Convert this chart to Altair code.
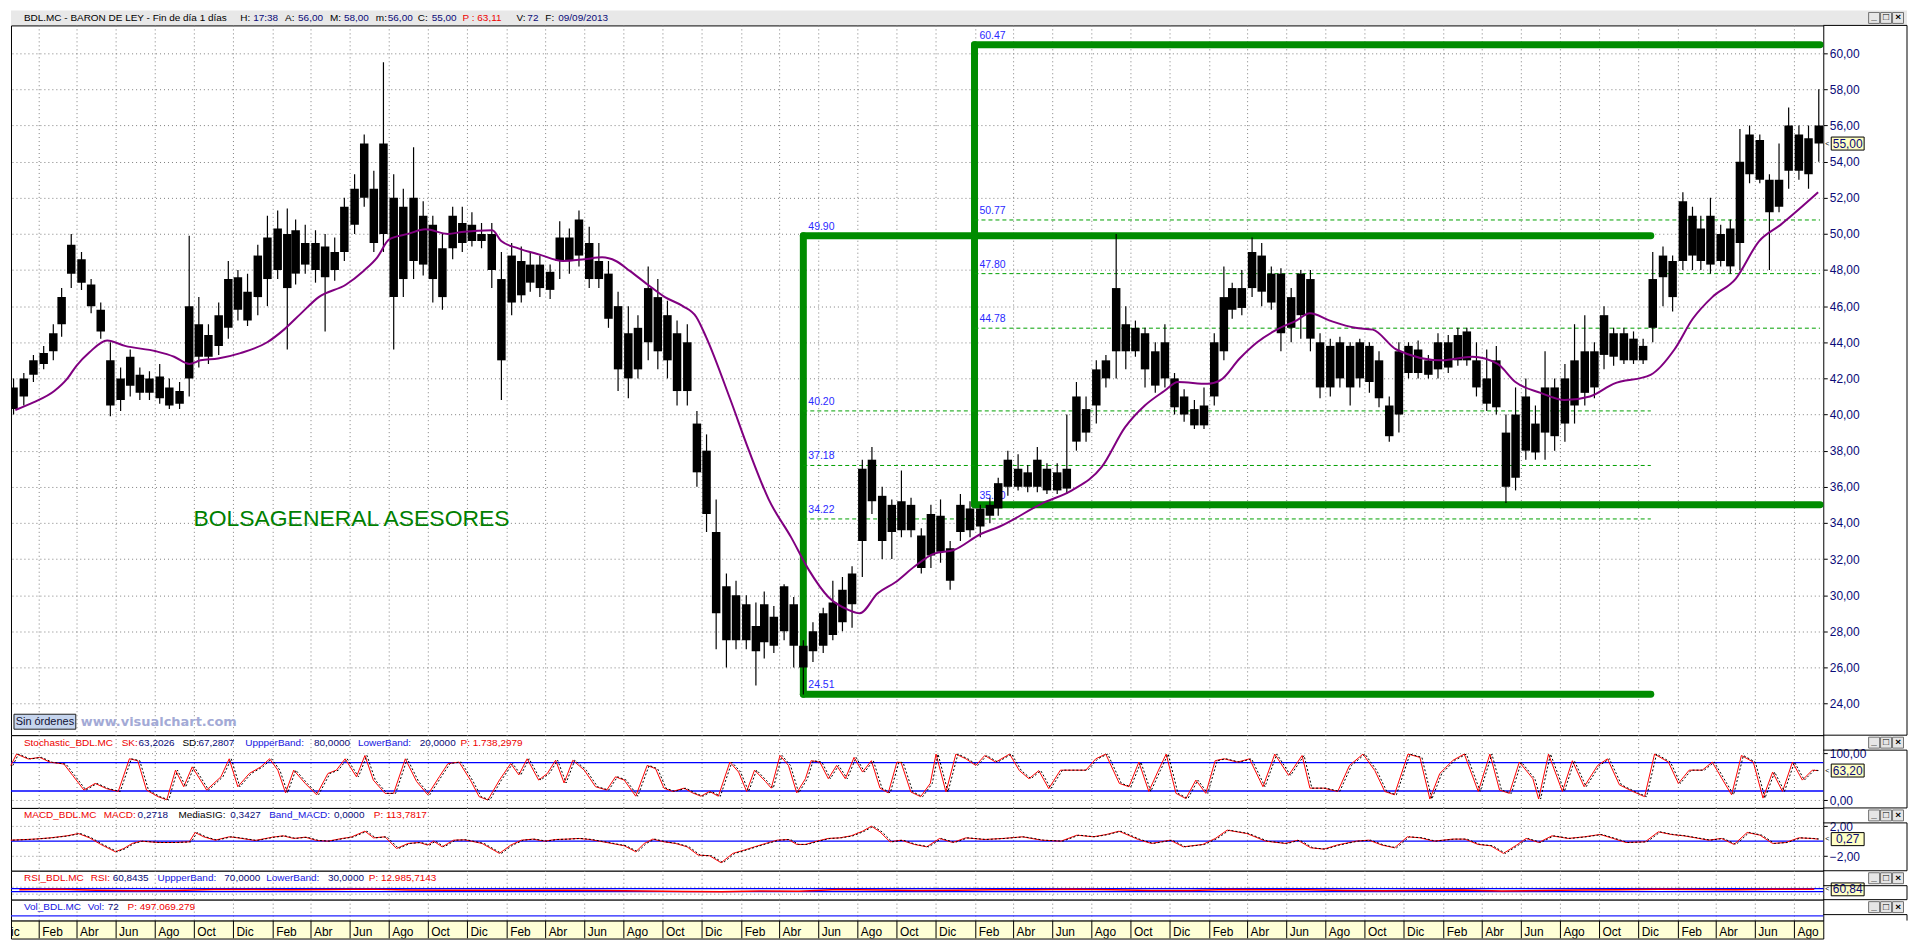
import altair as alt
import numpy as np
import pandas as pd

FONT = "Liberation Sans"
NAVY = "#0a0a78"
RED = "#ee0000"
BLUE = "#1515e0"
LBLUE = "#2a2aff"
GREEN = "#008c00"
FIBGREEN = "#00a000"

W = 1818
RIGHT = 84
H_HEAD, H_MAIN, H_STO, H_MACD, H_RSI, H_VOL, H_AX = 15, 712, 73, 63, 29, 21, 18

# ---------------- price data: one entry per half month (8th and 23rd) ----------------
PRICE_LOW = [40.0,
 40.5,41.8, 42.5,43.0, 44.3,47.0, 46.9,45.6, 44.2,39.9, 40.2,41.0, 40.8,40.8, 40.6,40.3, 40.3,41.0, 42.6,42.8, 43.3,44.2, 45.2,44.9,
 45.5,46.0, 47.5,43.6, 47.2,47.8, 47.3,44.6, 47.4,48.5, 50.0,51.5, 49.0,49.0, 43.6,46.5, 47.5,47.7, 46.2,45.8, 48.6,49.0, 49.3,49.2,
 47.0,40.8, 45.5,46.2, 46.8,46.5, 46.4,47.5, 47.8,48.2, 47.0,47.0, 44.8,41.3, 40.9,42.0, 43.0,42.5, 42.0,40.5, 40.5,36.0, 33.5,27.0,
 26.0,27.0, 27.0,25.0, 26.5,26.8, 27.5,26.0, 24.5,26.3, 26.8,27.5, 28.0,28.2, 31.0,34.5, 32.0,32.0, 33.2,33.2, 31.2,31.5, 31.8,30.3,
 33.0,33.2, 33.2,34.0, 34.4,35.5, 35.8,35.7, 35.7,35.6, 35.6,35.6, 38.0,38.5, 39.5,41.5, 42.0,42.5, 43.2,41.5, 41.2,41.5, 40.0,39.6,
 39.2,39.2, 40.5,43.0, 45.3,45.5, 46.5,46.0, 45.8,43.5, 44.0,44.2, 43.5,40.9, 41.0,41.5, 40.5,41.5, 41.2,40.4, 38.5,39.0, 42.0,42.0,
 42.0,42.0, 42.3,42.7, 42.7,41.0, 40.2,40.0, 35.1,35.8, 37.5,37.5, 37.5,38.0, 38.5,39.5, 40.5,40.9, 42.5,42.7, 42.8,42.8, 42.8,44.0,
 46.0,45.7, 48.0,48.0, 48.0,47.8, 48.2,47.8, 48.0,52.8, 52.8,48.0, 51.2,52.5, 53.0,52.5,
 54.0]
BODY_LOW = [40.3,
 41.0,42.2, 42.8,43.5, 45.0,47.8, 47.3,46.0, 44.6,40.5, 40.8,41.6, 41.2,41.2, 40.9,40.5, 40.6,42.0, 43.2,43.2, 43.8,44.8, 45.8,45.2,
 46.5,47.5, 48.0,47.0, 47.8,48.3, 48.0,47.6, 48.0,49.0, 50.5,52.0, 49.5,50.0, 46.5,47.5, 48.5,48.3, 47.5,46.5, 49.2,49.5, 49.6,49.6,
 48.0,43.0, 46.2,46.6, 47.3,47.0, 46.9,48.5, 48.5,48.8, 47.5,47.5, 45.3,42.5, 42.0,42.5, 44.0,43.5, 43.0,41.3, 41.3,36.8, 34.5,29.0,
 27.5,27.5, 27.5,26.9, 27.4,27.2, 28.0,27.2, 26.0,26.9, 27.2,27.8, 28.5,29.5, 33.0,35.2, 33.0,33.5, 33.6,33.6, 31.5,32.2, 32.4,30.8,
 33.5,33.6, 33.8,34.4, 34.8,36.0, 36.0,36.0, 36.0,35.8, 35.8,35.9, 38.5,39.0, 40.5,42.0, 43.5,43.5, 43.5,42.5, 41.6,42.0, 40.4,40.0,
 39.4,39.4, 41.0,43.5, 45.8,45.9, 47.0,46.8, 46.2,44.5, 44.8,45.5, 44.2,41.5, 41.5,42.0, 41.5,42.0, 41.8,40.9, 38.8,40.0, 42.3,42.3,
 42.2,42.5, 42.6,43.0, 43.0,41.5, 40.6,40.4, 36.0,36.5, 38.0,37.9, 39.0,38.8, 39.5,40.5, 41.2,41.5, 43.3,43.2, 43.0,43.0, 43.0,44.8,
 47.6,46.5, 48.5,48.8, 48.5,48.3, 48.5,48.2, 49.5,53.3, 53.0,51.2, 51.5,53.5, 53.5,53.3,
 55.0]
BODY_HIGH = [41.5,
 42.0,43.0, 43.4,44.5, 46.5,49.4, 48.6,47.2, 45.8,43.0, 42.0,43.2, 42.2,42.0, 42.1,41.5, 41.3,46.0, 45.0,44.4, 45.5,47.5, 47.6,46.8,
 48.8,49.8, 50.3,50.0, 50.2,49.5, 49.5,49.3, 49.0,51.5, 52.5,55.0, 52.5,55.0, 52.0,51.5, 52.0,51.0, 50.5,49.2, 51.0,50.6, 50.5,50.0,
 50.0,47.5, 48.8,48.5, 48.3,48.3, 47.9,49.8, 49.8,50.8, 49.5,48.5, 47.8,46.0, 44.5,44.8, 47.0,46.5, 45.5,44.5, 44.0,39.5, 38.0,33.5,
 30.5,30.0, 29.5,28.3, 29.5,28.8, 30.5,29.5, 27.2,28.0, 29.0,29.6, 30.3,31.2, 37.0,37.5, 35.5,35.0, 35.2,35.0, 33.3,34.5, 34.4,32.6,
 35.0,34.8, 34.8,35.0, 36.2,37.5, 37.0,36.8, 37.5,37.0, 36.8,37.0, 41.0,40.3, 42.5,43.0, 47.0,45.0, 44.8,44.5, 43.5,44.0, 42.0,41.0,
 40.3,40.5, 44.0,46.5, 47.0,47.0, 49.0,48.8, 47.8,47.8, 46.5,47.8, 47.5,44.0, 43.8,44.0, 43.8,44.0, 43.8,43.0, 40.5,43.5, 43.8,43.6,
 43.0,44.0, 44.0,44.4, 44.6,43.0, 42.0,43.0, 39.0,40.0, 41.0,39.5, 41.5,41.5, 42.0,43.0, 43.5,43.5, 45.5,44.5, 44.5,44.2, 43.8,47.5,
 48.8,48.5, 51.8,51.0, 50.3,51.0, 50.0,50.3, 54.0,55.5, 55.2,53.0, 53.0,56.0, 55.5,55.3,
 56.0]
PRICE_HIGH = [42.0,
 42.3,43.3, 43.8,45.0, 47.0,50.0, 49.0,47.5, 46.2,44.0, 42.6,43.6, 42.6,42.4, 42.8,42.0, 41.8,49.9, 46.5,45.0, 46.2,48.5, 48.0,47.8,
 49.4,51.0, 51.3,51.4, 50.8,50.5, 50.2,50.0, 49.8,52.0, 53.3,55.5, 53.5,59.5, 53.3,52.5, 54.8,51.8, 51.0,50.0, 51.5,51.5, 51.2,50.6,
 50.6,49.0, 49.5,49.3, 49.0,48.8, 48.3,50.7, 50.3,51.3, 50.4,49.5, 48.5,46.8, 46.0,45.5, 48.2,47.5, 46.3,45.2, 45.0,40.2, 38.9,35.3,
 31.2,30.8, 30.0,29.6, 30.2,29.4, 30.6,29.9, 27.5,28.5, 29.3,30.8, 31.0,31.6, 37.5,38.2, 36.0,35.3, 36.9,35.4, 33.7,35.0, 35.3,33.0,
 35.6,35.2, 35.0,35.4, 36.5,38.0, 37.8,37.2, 38.2,37.3, 37.3,40.0, 41.8,41.0, 43.0,43.3, 50.0,46.0, 45.2,44.8, 44.0,45.0, 42.3,41.4,
 40.8,41.5, 44.5,48.2, 47.3,48.0, 49.8,49.5, 48.2,48.1, 47.0,48.0, 48.0,44.5, 44.2,44.3, 44.0,44.2, 44.0,43.5, 41.0,44.0, 44.0,44.1,
 43.3,44.5, 44.4,44.8, 44.8,44.0, 43.6,43.8, 40.0,41.5, 42.0,40.5, 43.5,42.0, 42.8,45.0, 45.5,44.0, 46.0,44.8, 44.8,44.6, 44.2,49.0,
 49.3,48.8, 52.3,51.5, 51.0,52.0, 50.5,50.8, 55.8,56.0, 55.5,53.3, 55.0,57.0, 56.0,56.0,
 58.0]
LAST_CLOSE = 55.00

# moving average (time in months since Jan 2006)
MA_T = [-0.2, 0.71, 1.84, 2.52, 2.97, 3.65, 4.55, 5.46, 7.04, 7.95, 8.74, 9.31, 10.2, 11.35, 12.7, 13.6, 14.5, 15.4,
        16.8, 17.7, 18.4, 19.0, 19.95, 20.85, 21.99, 22.7, 24.25, 24.7, 25.6, 26.7, 27.9, 29.0, 29.9, 30.6, 31.3, 32.2,
        33.1, 34.0, 34.7, 35.2, 36.4, 37.4, 38.45, 39.6, 40.5, 41.5, 42.5, 43.1, 44.0, 44.9, 45.9, 46.9, 47.9, 49.3,
        50.3, 52.5, 54.0, 55.5, 56.7, 57.7, 58.7, 59.4, 60.9, 61.6, 62.6, 63.5, 64.5, 65.5, 66.2, 67.2, 68.5, 69.4,
        70.6, 72.9, 74.5, 75.8, 76.7, 78.0, 79.2, 80.5, 81.7, 83.6, 84.8, 85.8, 86.8, 88.0, 89.2, 90.3, 92.2]
MA_V = [40.25, 40.67, 41.3, 42.0, 42.7, 43.45, 44.1, 43.8, 43.5, 43.2, 42.8, 43.0, 43.1, 43.4, 44.0, 44.7, 45.6, 46.5,
        47.2, 47.95, 48.7, 49.7, 50.0, 50.25, 50.0, 50.1, 50.2, 49.6, 49.2, 48.85, 48.5, 48.6, 48.7, 48.5, 47.95, 47.2,
        46.5, 46.0, 45.4, 44.3, 40.9, 38.0, 35.3, 33.2, 31.4, 29.9, 29.2, 29.0, 30.1, 30.7, 31.6, 32.3, 32.5, 33.4,
        33.8, 35.1, 35.8, 37.1, 39.3, 40.5, 41.3, 41.8, 41.7, 41.9, 43.1, 44.0, 44.7, 45.2, 45.6, 45.2, 44.8, 44.7,
        43.6, 43.0, 43.2, 42.8, 41.8, 41.2, 40.8, 41.0, 41.7, 42.2, 43.6, 45.3, 46.5, 47.5, 49.6, 50.5, 52.3]

# green boxes and fibonacci levels
BOX_A_DATES = [(2009, 5, 8), (2012, 12, 20)]
BOX_A_LEVELS = [49.90, 24.51]
FIB_A = [40.20, 37.18, 34.22]
BOX_B_DATES = [(2010, 1, 30), (2013, 9, 10)]
BOX_B_LEVELS = [60.47, 35.00]
FIB_B = [50.77, 47.80, 44.78]

# stochastic %K
STOCH_T = [-0.43,-0.14,0.45,1.03,1.61,2.34,2.78,3.36,3.94,4.52,5.11,5.69,6.12,6.56,7.14,7.58,8.02,8.45,8.89,9.62,
           10.35,10.78,11.22,11.8,12.38,12.82,13.26,13.69,14.13,14.71,15.29,15.88,16.31,16.75,17.33,17.77,18.2,18.79,
           19.22,19.81,20.39,20.97,21.55,21.99,22.57,23.15,23.59,24.03,24.61,25.19,25.63,26.07,26.65,27.09,27.52,27.96,
           28.4,28.98,29.56,30.14,30.58,31.02,31.6,32.18,32.62,33.05,33.49,34.07,34.51,34.94,35.38,35.82,36.4,36.84,
           37.27,37.71,38.29,38.58,39.02,39.46,39.89,40.33,40.62,41.06,41.5,41.93,42.37,42.81,43.24,43.68,44.12,44.55,45.0,
           45.21,45.7,46.2,46.7,47.0,47.5,48.0,48.5,49.0,49.5,50.1,50.8,51.3,51.8,52.3,52.8,53.4,54.1,54.7,55.2,55.7,
           56.4,56.9,57.4,57.9,58.4,58.8,59.3,59.8,60.3,60.8,61.3,61.8,62.5,63.1,63.8,64.4,65.1,65.8,66.2,66.9,67.6,
           68.2,68.9,69.5,70.0,70.5,71.2,71.8,72.3,72.8,73.5,74.1,74.8,75.4,75.9,76.4,76.9,77.6,77.9,78.4,79.1,79.6,
           80.2,80.9,81.4,82.0,82.7,83.3,83.8,84.5,85.0,85.6,86.3,86.8,87.3,87.8,88.3,88.9,89.4,89.9,90.4,90.9,91.4,
           91.9,92.2]
STOCH_V = [73.8,98,87.6,91,80.7,77,53,22,36,25,19,88,84,22,8,1.4,64,29,71,22,
           50,88,29,57,71,88,64,16,64,36,12,57,64,88,50,95,43,15,
           15,88,40,12,50,78,81,43,8,1,43,78,54,88,43,57,85,37,
           85,64,29,22,50,43,9,74,67,26,19,26,16,9,19,9,81,60,
           19,64,40,26,95,74,16,46,84,81,46,74,46,91,60,84,26,16,81,
           80,18,8,36,98,18,98,88,74,95,81,98,63,46,63,25,64,64,64,88,98,
           36,29,81,19,64,98,15,4,43,15,84,88,81,88,29,98,53,95,26,26,19,
           74,98,63,19,12,98,91,3,57,85,98,19,98,22,15,81,46,3,98,19,84,
           29,74,88,33,19,8,98,81,36,64,64,81,46,12,95,81,5,60,19,81,43,
           64,63]

# MACD
MACD_T = [-0.43, 0.74, 1.61, 2.49, 3.07, 3.65, 4.23, 4.96, 5.40, 5.83, 6.27, 7.14, 8.02, 8.74, 9.04, 9.47, 10.05,
          10.78, 11.22, 12.09, 12.97, 13.55, 14.13, 14.71, 15.29, 15.88, 16.60, 17.04, 17.77, 18.21, 18.79, 19.37,
          19.95, 20.53, 20.97, 21.26, 21.70, 22.28, 22.86, 23.74, 24.61, 25.19, 25.77, 26.36, 26.94, 27.52, 28.10,
          28.69, 29.27, 30.14, 31.02, 31.60, 32.03, 32.47, 33.05, 33.63, 34.22, 34.80, 35.38, 35.96, 36.55, 37.13,
          37.71, 38.29, 38.88, 39.46, 39.89, 40.33, 40.91, 41.49, 42.08, 42.66, 43.24, 43.68, 44.12, 44.64,
          45.21, 45.87, 46.52, 47.18, 47.84, 48.50, 49.48, 50.47, 51.45, 52.44, 53.43, 54.25, 55.07, 55.73, 56.38,
          57.37, 58.03, 59.01, 59.67, 60.65, 61.31, 61.97, 62.96, 63.94, 64.93, 65.58, 66.24, 66.90, 67.56, 68.54,
          69.20, 69.86, 70.51, 71.17, 71.83, 72.49, 73.47, 74.13, 74.79, 75.44, 76.10, 76.76, 77.25, 77.91, 78.57,
          79.39, 80.21, 81.03, 81.69, 82.34, 83.33, 83.99, 84.64, 85.30, 85.96, 86.62, 87.27, 87.93, 88.59, 89.24,
          89.90, 90.56, 91.22, 91.87, 92.20]
MACD_V = [0.13, 0.27, 0.44, 0.71, 1.02, 0.44, -0.44, -1.42, -0.98, -0.31, 0.0, -0.18, -0.18, -0.09, 1.16, 0.58, 0.13,
          0.58, 0.44, 0.09, 0.53, 0.71, 0.36, 0.53, 0.09, 0.0, 0.36, 0.53, 1.33, 0.44, 0.58, -0.98,
          -0.31, -0.18, -0.53, 0.0, -0.76, 0.13, 0.18, -0.31, -1.64, -0.53, 0.13, 0.27, 0.0, 0.22, 0.27,
          0.36, 0.22, -0.18, -0.62, -1.42, -0.31, 0.27, -0.09, -0.31, -0.76, -1.87, -1.96, -2.89, -1.64, -1.2,
          -0.76, -0.31, 0.13, 0.22, -0.44, -0.44, 0.0, 0.36, 0.44, 0.71, 1.33, 2.0, 1.24, -0.09,
          0.13, -0.44, -0.76, 0.36, -0.18, 0.44, 0.22, 0.36, 0.58, 0.13, 0.0, 0.80, 0.58, 0.89, 1.33,
          0.22, -0.31, 0.13, -0.76, -0.44, 0.36, 1.47, 1.02, 0.0, -0.31, 0.13, -0.89, -1.07, -0.53, 0.0,
          0.13, -0.53, -0.89, 0.58, 0.44, 0.0, 0.27, 0.27, -0.44, -0.62, -1.64, -0.53, 0.36, -0.18, 0.71,
          0.36, 0.58, 0.89, 0.36, -0.18, -0.09, 1.24, 0.89, 0.71, 0.44, 0.13, 0.36, -0.44, 1.16, 0.80,
          -0.31, -0.18, 0.44, 0.36, 0.27]

# RSI (every two months)
RSI_T = list(range(0, 93, 2))
RSI_V = [55, 62, 50, 42, 46, 58, 60, 56, 58, 64, 52, 50, 48, 50, 50, 44, 40, 33, 30, 38, 36, 58, 52, 47,
         50, 55, 57, 63, 56, 47, 46, 60, 56, 57, 45, 43, 48, 52, 40, 46, 52, 55, 63, 60, 56, 63, 61]

MONTHS_ES = {2: "Feb", 4: "Abr", 6: "Jun", 8: "Ago", 10: "Oct", 12: "Dic"}
Y_TICKS = list(range(24, 61, 2))


# ---------------- helpers ----------------
def mdate(t):
    k = int(np.floor(t))
    base = pd.Timestamp(2006, 1, 1) + pd.DateOffset(months=k)
    nxt = pd.Timestamp(2006, 1, 1) + pd.DateOffset(months=k + 1)
    return base + (nxt - base) * (t - k)


XS = alt.Scale(domain=[alt.DateTime(year=2005, month=12, date=19),
                       alt.DateTime(year=2013, month=9, date=15)])


def X(f):
    return alt.X(f, scale=XS, axis=None, title=None)


ONE = pd.DataFrame({"k": [0]})
COMMA2 = "replace(format(datum.value, '.2f'), '.', ',')"


def txt(t, x, y, color, size=10.5, align="left", weight="normal", font=FONT, baseline="middle"):
    return alt.Chart(ONE).mark_text(text=t, align=align, baseline=baseline, fontSize=size,
                                    color=color, font=font, fontWeight=weight).encode(
        x=alt.value(x), y=alt.value(y))


def segs(items, y, size=10.5):
    return [txt(t, x, y, c, size=size) for t, x, c in items]


def hline(x1, x2, y, color="black"):
    return alt.Chart(ONE).mark_rule(color=color, strokeWidth=1).encode(
        x=alt.value(x1), x2=alt.value(x2), y=alt.value(y))


def vline(x, y1, y2, color="black"):
    return alt.Chart(ONE).mark_rule(color=color, strokeWidth=1).encode(
        x=alt.value(x), y=alt.value(y1), y2=alt.value(y2))


def buttons(y):
    out = []
    for i, g in enumerate(["_", "\u25a1", "\u00d7"]):
        cx = W + 51 + 12 * i
        out.append(alt.Chart(ONE).mark_rect(fill="#e6e6e6", stroke="#707070", strokeWidth=1).encode(
            x=alt.value(cx - 5.5), x2=alt.value(cx + 5.5), y=alt.value(y - 5.5), y2=alt.value(y + 5.5)))
        out.append(txt(g, cx, y - 0.5, "black", size=10, align="center", weight="bold"))
    return out


def right_frame(h, strip):
    out = [hline(W, W + RIGHT, 0)]
    if strip:
        out.append(hline(W, W + RIGHT, strip))
    out.append(vline(W + RIGHT, strip, h))
    return out


def flag(label, v, half, scale, axis):
    df = pd.DataFrame({"v": [v], "lo": [v - half], "hi": [v + half]})
    box = alt.Chart(df).mark_rect(fill="#ffffc4", stroke="black", strokeWidth=1).encode(
        x=alt.value(W + 8), x2=alt.value(W + 41),
        y=alt.Y("lo:Q", scale=scale, axis=axis), y2="hi:Q")
    t = alt.Chart(df).mark_text(text=label, align="center", baseline="middle", fontSize=12,
                                color=NAVY, font=FONT).encode(
        x=alt.value(W + 24.5), y=alt.Y("v:Q", scale=scale, axis=axis))
    arrow = alt.Chart(df).mark_text(text="<", align="center", baseline="middle", fontSize=7,
                                    color="black", font=FONT).encode(
        x=alt.value(W + 4), y=alt.Y("v:Q", scale=scale, axis=axis))
    return [box, t, arrow]


# ---------------- frames ----------------
period_dates = [pd.Timestamp(2005, 12, 23)]
for yy in range(2006, 2014):
    for mm in range(1, 13):
        if (yy, mm) > (2013, 8):
            break
        period_dates += [pd.Timestamp(yy, mm, 8), pd.Timestamp(yy, mm, 23)]
period_dates.append(pd.Timestamp(2013, 9, 8))

price_df = pd.DataFrame({"d": period_dates, "lo": PRICE_LOW, "b0": BODY_LOW,
                         "b1": BODY_HIGH, "hi": PRICE_HIGH})
ma_df = pd.DataFrame({"d": [mdate(t) for t in MA_T], "v": MA_V})
stoch_df = pd.DataFrame({"d": [mdate(t) for t in STOCH_T], "v": STOCH_V})
macd_df = pd.DataFrame({"d": [mdate(t) for t in MACD_T], "v": MACD_V})
rsi_df = pd.DataFrame({"d": [mdate(t) for t in RSI_T], "v": RSI_V})

tick_dates = [pd.Timestamp(2005, 12, 1)]
for yy in range(2006, 2014):
    for mm in (2, 4, 6, 8, 10, 12):
        if pd.Timestamp(yy, mm, 1) <= pd.Timestamp(2013, 8, 1):
            tick_dates.append(pd.Timestamp(yy, mm, 1))
ticks_df = pd.DataFrame({"d": tick_dates, "lab": [MONTHS_ES[d.month] for d in tick_dates]})
grid_df = ticks_df[ticks_df["d"] >= pd.Timestamp(2005, 12, 19)]

green_rows, fib_rows, lbl_rows = [], [], []
for dates, levels, fibs in [(BOX_A_DATES, BOX_A_LEVELS, FIB_A), (BOX_B_DATES, BOX_B_LEVELS, FIB_B)]:
    s, e = pd.Timestamp(*dates[0]), pd.Timestamp(*dates[1])
    top, bot = levels
    green_rows.append({"x": s, "x2": s, "y": bot, "y2": top})
    for lv in levels:
        green_rows.append({"x": s, "x2": e, "y": lv, "y2": lv})
        lbl_rows.append({"d": s, "v": lv, "lab": f"{lv:.2f}"})
    for lv in fibs:
        fib_rows.append({"x": s, "x2": e, "y": lv})
        lbl_rows.append({"d": s, "v": lv, "lab": f"{lv:.2f}"})
green_df = pd.DataFrame(green_rows)
fib_df = pd.DataFrame(fib_rows)
lbl_df = pd.DataFrame(lbl_rows)


def vgrid():
    return alt.Chart(grid_df).mark_rule(color="#808080", strokeDash=[1, 3], strokeWidth=1).encode(x=X("d:T"))


def axis_right(values, labels=True, grid=True):
    return alt.Axis(orient="right", values=values, labelExpr=COMMA2, grid=grid, gridDash=[1, 3],
                    gridColor="#808080", gridWidth=1, tickSize=4, tickColor="black", domain=False,
                    labelColor=NAVY, labelFontSize=12, labelFont=FONT, labelPadding=2, title=None,
                    labels=labels, ticks=labels)


VIEW = alt.ViewBackground(stroke="black", strokeWidth=1, fill="white")
TS = 10  # font size of panel titles

# ---------------- header ----------------
HEAD_SEGS = [("BDL.MC - BARON DE LEY - Fin de d\u00eda 1 d\u00edas", 13, "black"),
             ("H:", 230, "black"), ("17:38", 243, NAVY), ("A:", 275, "black"), ("56,00", 288, NAVY),
             ("M:", 320, "black"), ("58,00", 334, NAVY), ("m:", 366, "black"), ("56,00", 378, NAVY),
             ("C:", 408, "black"), ("55,00", 422, NAVY), ("P : 63,11", 453, RED), ("V:", 507, "black"),
             ("72", 518, NAVY), ("F:", 536, "black"), ("09/09/2013", 549, NAVY)]
head_bg = alt.Chart(ONE).mark_rect(color="#e8e8e8").encode(
    x=alt.value(0), x2=alt.value(W + RIGHT), y=alt.value(0), y2=alt.value(H_HEAD))
header = alt.layer(head_bg, *segs(HEAD_SEGS, 7.5, TS), *buttons(7.5)).properties(
    width=W, height=H_HEAD, view=alt.ViewBackground(stroke="transparent"))

# ---------------- main price panel ----------------
YM = alt.Scale(domain=[22.25, 61.54], nice=False, zero=False)
YAXM = axis_right(Y_TICKS)


def YMf(f):
    return alt.Y(f, scale=YM, axis=YAXM)


green = alt.Chart(green_df).mark_rule(color=GREEN, strokeWidth=7, strokeCap="round").encode(
    x=X("x:T"), x2="x2:T", y=YMf("y:Q"), y2="y2:Q")
fibs = alt.Chart(fib_df).mark_rule(color=FIBGREEN, strokeWidth=1, strokeDash=[4, 3]).encode(
    x=X("x:T"), x2="x2:T", y=YMf("y:Q"))
fib_lbl = alt.Chart(lbl_df).mark_text(align="left", baseline="bottom", dx=5, dy=-4, fontSize=10.5,
                                      color=LBLUE, font=FONT).encode(
    x=X("d:T"), y=YMf("v:Q"), text="lab:N")
wicks = alt.Chart(price_df).mark_rule(color="black", strokeWidth=1.2, clip=True).encode(
    x=X("d:T"), y=YMf("lo:Q"), y2="hi:Q")
bodies = alt.Chart(price_df).mark_rule(color="black", strokeWidth=8.5, clip=True).encode(
    x=X("d:T"), y=YMf("b0:Q"), y2="b1:Q")
ma = alt.Chart(ma_df).mark_line(color="#800080", strokeWidth=2, interpolate="monotone").encode(
    x=X("d:T"), y=YMf("v:Q"))
bolsa = txt("BOLSAGENERAL ASESORES", 183, H_MAIN * (61.54 - 34.23) / 39.29, "#008000", size=23)
sin_box = alt.Chart(ONE).mark_rect(fill="#c6d5ee", stroke="#202020", strokeWidth=1).encode(
    x=alt.value(3), x2=alt.value(65), y=alt.value(H_MAIN - 21), y2=alt.value(H_MAIN - 6))
sin_txt = txt("Sin \u00f3rdenes", 34, H_MAIN - 13.5, "#101030", size=11, align="center")
vc_txt = txt("www.visualchart.com", 70, H_MAIN - 13, "#a3aad6", size=13, weight="bold", font="DejaVu Sans")

main = alt.layer(vgrid(), green, fibs, fib_lbl, wicks, bodies, ma, bolsa, sin_box, sin_txt, vc_txt,
                 *flag("55,00", LAST_CLOSE, 0.36, YM, YAXM), *right_frame(H_MAIN, 0)).properties(
    width=W, height=H_MAIN, view=VIEW)

# ---------------- stochastic ----------------
YS = alt.Scale(domain=[-15.8, 137.9], nice=False, zero=False)
YAXS = axis_right([0, 100])
STO_SEGS = [("Stochastic_BDL.MC", 13, RED), ("SK:", 111, RED), ("63,2026", 128, NAVY), ("SD:", 172, "black"),
            ("67,2807", 188, NAVY), ("UppperBand:", 235, BLUE), ("80,0000", 304, NAVY),
            ("LowerBand:", 348, BLUE), ("20,0000", 410, NAVY), ("P: 1.738,2979", 451, RED)]
bands_s = alt.Chart(pd.DataFrame({"v": [20, 80]})).mark_rule(color="#0000ff", strokeWidth=1.3).encode(
    y=alt.Y("v:Q", scale=YS, axis=YAXS))
sk = alt.Chart(stoch_df).mark_line(color="#ff0000", strokeWidth=1).encode(
    x=X("d:T"), y=alt.Y("v:Q", scale=YS, axis=YAXS))
sd = alt.Chart(stoch_df).mark_line(color="black", strokeWidth=1, strokeDash=[2, 2], xOffset=2).encode(
    x=X("d:T"), y=alt.Y("v:Q", scale=YS, axis=YAXS))
sto = alt.layer(vgrid(), bands_s, sk, sd, *segs(STO_SEGS, 8, TS), *flag("63,20", 63.2, 13.7, YS, YAXS),
                *right_frame(H_STO, 15), *buttons(7.5)).properties(width=W, height=H_STO, view=VIEW)

# ---------------- MACD ----------------
YC = alt.Scale(domain=[-3.96, 4.44], nice=False, zero=False)
YAXC = axis_right([-2, 2])
MACD_SEGS = [("MACD_BDL.MC", 13, RED), ("MACD:", 93, RED), ("0,2718", 127, NAVY), ("MediaSIG:", 168, "black"),
             ("0,3427", 220, NAVY), ("Band_MACD:", 259, BLUE), ("0,0000", 324, NAVY), ("P: 113,7817", 364, RED)]
zero_c = alt.Chart(pd.DataFrame({"v": [0]})).mark_rule(color="#0000ff", strokeWidth=1.3).encode(
    y=alt.Y("v:Q", scale=YC, axis=YAXC))
macd_l = alt.Chart(macd_df).mark_line(color="#ff0000", strokeWidth=1).encode(
    x=X("d:T"), y=alt.Y("v:Q", scale=YC, axis=YAXC))
sig_l = alt.Chart(macd_df).mark_line(color="black", strokeWidth=1, strokeDash=[2, 2], xOffset=2).encode(
    x=X("d:T"), y=alt.Y("v:Q", scale=YC, axis=YAXC))
macd = alt.layer(vgrid(), zero_c, macd_l, sig_l, *segs(MACD_SEGS, 7.5, TS), *flag("0,27", 0.27, 0.87, YC, YAXC),
                 *right_frame(H_MACD, 15), *buttons(7.5)).properties(width=W, height=H_MACD, view=VIEW)

# ---------------- RSI ----------------
YR = alt.Scale(domain=[-77, 310], nice=False, zero=False)
YAXR = axis_right([0, 100], labels=False)
RSI_SEGS = [("RSI_BDL.MC", 13, RED), ("RSI:", 80, RED), ("60,8435", 102, NAVY), ("UppperBand:", 147, BLUE),
            ("70,0000", 214, NAVY), ("LowerBand:", 256, BLUE), ("30,0000", 318, NAVY), ("P: 12.985,7143", 359, RED)]
bands_r = alt.Chart(pd.DataFrame({"v": [30, 70]})).mark_rule(color="#0000ff", strokeWidth=1.2).encode(
    y=alt.Y("v:Q", scale=YR, axis=YAXR))
rsi_l = alt.Chart(rsi_df).mark_line(color="#ff0000", strokeWidth=1.5).encode(
    x=X("d:T"), y=alt.Y("v:Q", scale=YR, axis=YAXR))
rsi = alt.layer(vgrid(), bands_r, rsi_l, *segs(RSI_SEGS, 7.7, TS), *flag("60,84", 60.84, 86.0, YR, YAXR),
                *right_frame(H_RSI, 15), *buttons(7.5)).properties(width=W, height=H_RSI, view=VIEW)

# ---------------- Volume ----------------
YV = alt.Scale(domain=[-0.29, 1], nice=False, zero=False)
VOL_SEGS = [("Vol_BDL.MC", 13, BLUE), ("Vol:", 77, BLUE), ("72", 97, NAVY), ("P: 497.069.279", 117, RED)]
vol_l = alt.Chart(pd.DataFrame({"v": [0.0]})).mark_rule(color="#2020ff", strokeWidth=1.2).encode(
    y=alt.Y("v:Q", scale=YV, axis=None))
vol = alt.layer(vgrid(), vol_l, *segs(VOL_SEGS, 7.7, TS), *right_frame(H_VOL, 15), *buttons(7.5)).properties(
    width=W, height=H_VOL, view=VIEW)

# ---------------- time axis strip ----------------
tick_rules = alt.Chart(ticks_df).mark_rule(color="black", strokeWidth=1, clip=True).encode(x=X("d:T"))
tick_lbls = alt.Chart(ticks_df).mark_text(align="left", baseline="alphabetic", dx=3, fontSize=12,
                                          color="black", font=FONT, clip=True).encode(
    x=X("d:T"), y=alt.value(15.5), text="lab:N")
strip = alt.layer(tick_rules, tick_lbls).properties(
    width=W, height=H_AX, view=alt.ViewBackground(stroke="black", strokeWidth=1, fill="#ffffd6"))

chart = alt.vconcat(header, main, sto, macd, rsi, vol, strip, spacing=0, bounds="flush", padding=0).configure_view(
    stroke="black", strokeWidth=1)

chart.save("out.html", embed_options={"renderer": "svg", "actions": False})
